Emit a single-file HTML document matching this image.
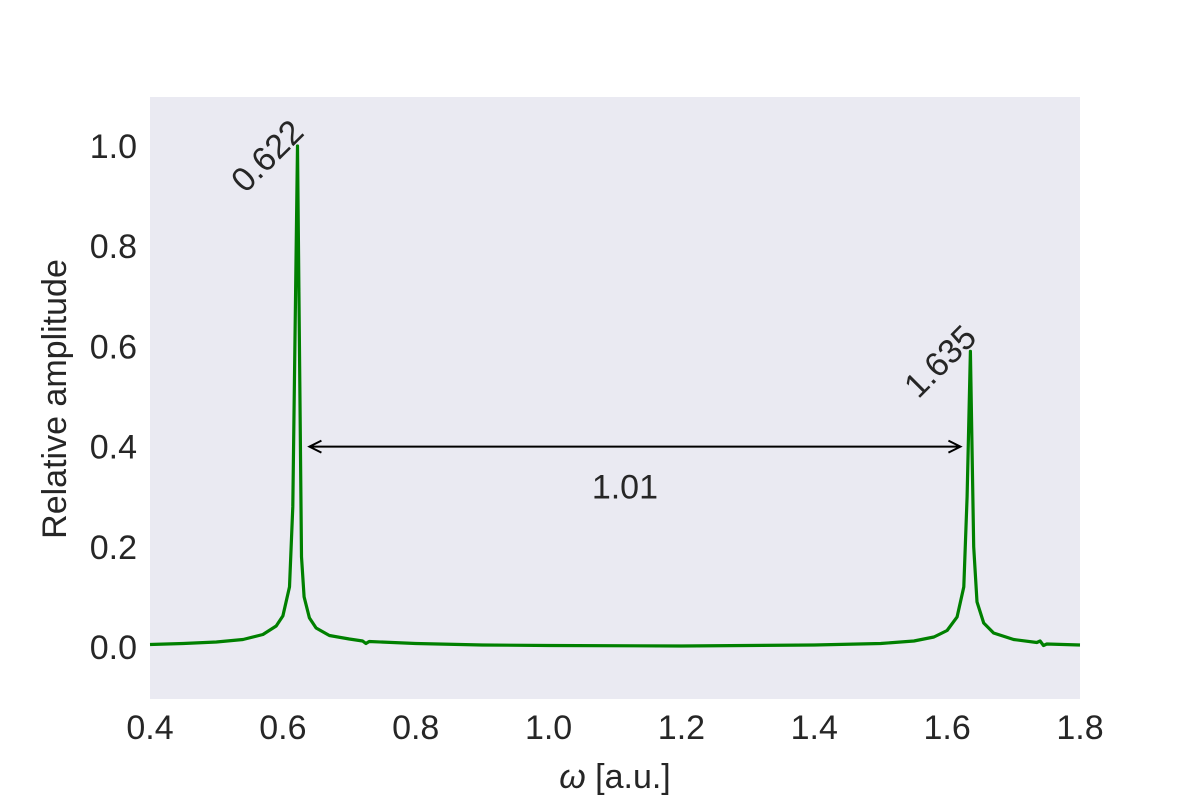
<!DOCTYPE html>
<html><head><meta charset="utf-8"><style>
body{margin:0;background:#fff;}
svg text{font-family:"Liberation Sans",sans-serif;fill:#262626;}
</style></head><body>
<svg id="c" width="1200" height="800" xmlns="http://www.w3.org/2000/svg">
<rect x="150" y="97" width="930" height="602" fill="#eaeaf2"/>
<g id="ticks"></g>
<path id="line" fill="none" stroke="#008000" stroke-width="3.2" stroke-linejoin="round"/>
<g id="ann"></g>
<text x="615" y="788" font-size="34" text-anchor="middle"><tspan font-style="italic">ω</tspan> [a.u.]</text>
<text transform="translate(66,399) rotate(-90)" font-size="34" text-anchor="middle">Relative amplitude</text>
</svg>
<script>
const xs=[0.40,0.45,0.50,0.54,0.57,0.59,0.60,0.61,0.615,0.622,0.628,0.632,0.64,0.65,0.67,0.70,0.72,0.725,0.73,0.80,0.90,1.00,1.20,1.40,1.50,1.55,1.58,1.60,1.615,1.625,1.630,1.635,1.640,1.645,1.655,1.67,1.70,1.735,1.74,1.745,1.75,1.80];
const ys=[0.005,0.007,0.010,0.015,0.025,0.042,0.062,0.12,0.28,1.0,0.18,0.10,0.058,0.038,0.023,0.016,0.012,0.007,0.011,0.007,0.004,0.003,0.002,0.004,0.007,0.012,0.020,0.033,0.06,0.12,0.30,0.59,0.20,0.09,0.048,0.028,0.015,0.009,0.012,0.003,0.006,0.004];
const xTicks=[0.4,0.6,0.8,1.0,1.2,1.4,1.6,1.8];
const yTicks=[0.0,0.2,0.4,0.6,0.8,1.0];
const peaks=[0.622,1.635];
const peakVals=[1.0,0.59];
const gap=[0.64,1.62];
const gapY=0.4;
const gapLabel="1.01";
const X=v=>150+(v-0.4)/1.4*930;
const Y=v=>647-v*501;
const NS="http://www.w3.org/2000/svg";
const tg=document.getElementById('ticks');
function mk(tag,attrs,parent,txt){const e=document.createElementNS(NS,tag);for(const k in attrs)e.setAttribute(k,attrs[k]);if(txt!==undefined)e.textContent=txt;parent.appendChild(e);return e;}
xTicks.forEach(t=>{const e=mk('text',{x:X(t),y:739,'font-size':34,'text-anchor':'middle'},tg,t.toFixed(1));

});
yTicks.forEach(t=>{const e=mk('text',{x:137,y:Y(t)+12,'font-size':34,'text-anchor':'end'},tg,t.toFixed(1));

});
document.getElementById('line').setAttribute('d',xs.map((x,i)=>(i?'L':'M')+X(x).toFixed(1)+','+Y(ys[i]).toFixed(1)).join(''));
const an=document.getElementById('ann');
peaks.forEach((p,i)=>{const px=X(p)+8,py=Y(peakVals[i])-12;
const e=mk('text',{x:px,y:py,'font-size':34,'text-anchor':'end',transform:`rotate(-45 ${px} ${py})`},an,p.toFixed(3));

});
const ay=Y(gapY),x1=X(gap[0]),x2=X(gap[1]);
const ar=mk('path',{d:`M${x1},${ay}L${x2},${ay}M${x1+12},${ay-6}L${x1},${ay}L${x1+12},${ay+6}M${x2-12},${ay-6}L${x2},${ay}L${x2-12},${ay+6}`,stroke:'#000','stroke-width':2,fill:'none'},an);


const gl=mk('text',{x:(x1+x2)/2-10,y:ay+52,'font-size':34,'text-anchor':'middle'},an,gapLabel);


</script>
</body></html>
